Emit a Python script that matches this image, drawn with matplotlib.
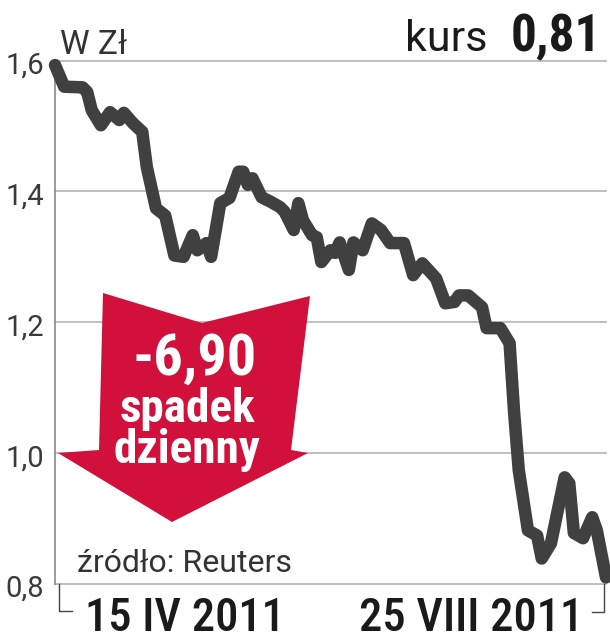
import matplotlib
matplotlib.use("Agg")
import matplotlib.pyplot as plt
from matplotlib import font_manager
from matplotlib.patches import Polygon

# ---- data ----
dzien = [0, 2, 6, 7, 8, 10, 12, 14, 15, 17, 19, 20, 22, 24, 26, 28, 30, 31, 33, 34,
         36, 38, 40, 41, 42, 43, 45, 47, 49, 50, 52, 53, 54, 56, 57, 58, 60, 61, 62, 64,
         65, 67, 69, 71, 73, 76, 78, 80, 83, 85, 87, 88, 90, 93, 94, 97, 99, 100, 101, 103,
         105, 106, 108, 111, 112, 113, 115, 117, 118, 120]
kurs = [1.593, 1.560, 1.559, 1.552, 1.524, 1.501, 1.521, 1.509, 1.520, 1.504,
        1.491, 1.437, 1.374, 1.363, 1.302, 1.300, 1.333, 1.310, 1.321, 1.300,
        1.382, 1.390, 1.430, 1.430, 1.410, 1.420, 1.391, 1.384, 1.376, 1.369,
        1.341, 1.382, 1.356, 1.333, 1.330, 1.292, 1.310, 1.306, 1.322, 1.280,
        1.322, 1.310, 1.351, 1.341, 1.321, 1.321, 1.272, 1.290, 1.267, 1.229,
        1.231, 1.241, 1.241, 1.223, 1.191, 1.191, 1.168, 1.061, 0.974, 0.882,
        0.874, 0.839, 0.862, 0.963, 0.954, 0.878, 0.870, 0.902, 0.882, 0.810]
y_ticks = [0.8, 1.0, 1.2, 1.4, 1.6]
y_labels = ["0,8", "1,0", "1,2", "1,4", "1,6"]
x_labels = ["15 IV 2011", "25 VIII 2011"]
unit = "W Zł"
title_word = "kurs"
title_value = "0,81"
badge = ["-6,90", "spadek", "dzienny"]
source = "źródło: Reuters"

# ---- fonts ----
names = {f.name for f in font_manager.fontManager.ttflist}
COND = "Roboto Condensed" if "Roboto Condensed" in names else "DejaVu Sans"
REG = "Roboto" if "Roboto" in names else "DejaVu Sans"
plt.rcParams["font.family"] = [REG, "DejaVu Sans"]
FC = [COND, "DejaVu Sans"]
FR = [REG, "DejaVu Sans"]

W, H = 610, 640
fig = plt.figure(figsize=(W / 100, H / 100), dpi=100)

def fx(px):
    return px / W

def fy(py):
    return 1 - py / H

ax = fig.add_axes([fx(55), fy(584), (606 - 55) / W, (584 - 60.5) / H])
ax.set_xlim(0, 120)
ax.set_ylim(0.8, 1.6)
ax.set_yticks(y_ticks)
ax.set_yticklabels([])
ax.set_xticks([])
ax.tick_params(length=0)
for s in ["top", "right", "bottom"]:
    ax.spines[s].set_visible(False)
ax.spines["left"].set_color("#8a8a8a")
ax.spines["left"].set_linewidth(1.2)
for v in y_ticks:
    ax.axhline(v, color="#b4b4b4", lw=1.2, zorder=1, clip_on=False)

ax.plot(dzien, kurs, color="#404040", lw=9, solid_joinstyle="round",
        solid_capstyle="round", zorder=5, clip_on=False)

# y labels
for v, lab in zip(y_ticks, y_labels):
    ax.annotate(lab, xy=(0, v), xycoords=("axes fraction", "data"),
                xytext=(-11, -13), textcoords="offset pixels",
                ha="right", va="baseline", fontsize=21,
                family=FR, color="#3a3a3a")

# arrow badge
pts = [(103, 293), (202, 323), (310, 296), (291, 450), (308, 453),
       (172, 522), (58, 453), (99, 450)]
fig.patches.append(Polygon([(fx(x), fy(y)) for x, y in pts], closed=True,
                           transform=fig.transFigure, facecolor="#d1103b",
                           edgecolor="none", zorder=3))
fig.text(fx(195), fy(375), badge[0], ha="center", va="baseline", fontsize=42,
         fontweight="bold", family=FC, color="white", zorder=6)
fig.text(fx(187), fy(422), badge[1], ha="center", va="baseline", fontsize=34,
         fontweight="bold", family=FC, color="white", zorder=6)
fig.text(fx(187), fy(463), badge[2], ha="center", va="baseline", fontsize=34,
         fontweight="bold", family=FC, color="white", zorder=6)

# header
fig.text(fx(60), fy(54), unit, ha="left", va="baseline", fontsize=24,
         family=FR, color="#333333")
fig.text(fx(488), fy(51), title_word, ha="right", va="baseline", fontsize=31,
         family=FR, color="#1a1a1a")
fig.text(fx(601), fy(51), title_value, ha="right", va="baseline", fontsize=37,
         fontweight="bold", family=FC, color="#1a1a1a")

# source
fig.text(fx(77), fy(572), source, ha="left", va="baseline", fontsize=23,
         family=FR, color="#333333")

# bottom brackets
br = dict(color="#444444", lw=1.0, transform=fig.transFigure)
fig.add_artist(plt.Line2D([fx(59), fx(59), fx(72)], [fy(584), fy(611), fy(611)], **br))
fig.add_artist(plt.Line2D([fx(604), fx(604), fx(592)], [fy(584), fy(612), fy(612)], **br))

fig.text(fx(85), fy(631), x_labels[0], ha="left", va="baseline", fontsize=33.5,
         fontweight="medium", family=FC, color="#1a1a1a")
fig.text(fx(583), fy(631), x_labels[1], ha="right", va="baseline", fontsize=33.5,
         fontweight="medium", family=FC, color="#1a1a1a")

fig.savefig("out.png", dpi=100)
